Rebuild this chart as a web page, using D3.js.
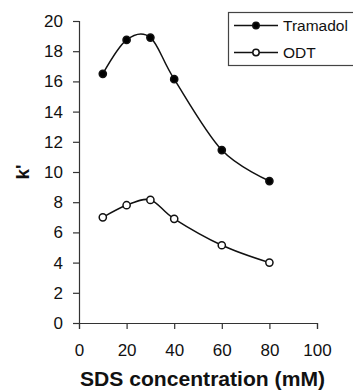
<!DOCTYPE html>
<html>
<head>
<meta charset="utf-8">
<script src="https://cdn.jsdelivr.net/npm/d3@7"></script>
<style>
    body { margin: 0; background: #fff; }
    svg { display: block; font-family: "Liberation Sans", Arial, sans-serif; }
</style>
</head>
<body>
<div id="chart"></div>
<script>
/* Chart data. */
const concentrations = [10, 20, 30, 40, 60, 80];
const tramadol = [16.5, 18.75, 18.9, 16.15, 11.45, 9.4];
const odt = [7.0, 7.8, 8.15, 6.9, 5.15, 4.0];
const xTicks = [0, 20, 40, 60, 80, 100];
const yTicks = [0, 2, 4, 6, 8, 10, 12, 14, 16, 18, 20];
const seriesNames = ['Tramadol', 'ODT'];

const width = 353;
const height = 391;
const margin = {top: 21, right: 36, bottom: 68, left: 79};

const svg = d3.select('#chart').append('svg')
    .attr('width', width)
    .attr('height', height);

const x = d3.scaleLinear().domain([0, 100]).range([margin.left, width - margin.right]);
const y = d3.scaleLinear().domain([0, 20]).range([height - margin.bottom, margin.top]);

// Draw axes.
const xAxis = svg.append('g')
    .attr('transform', 'translate(0,' + y(0) + ')')
    .call(d3.axisBottom(x).tickValues(xTicks).tickSize(6).tickPadding(15));
const yAxis = svg.append('g')
    .attr('transform', 'translate(' + x(0) + ',0)')
    .call(d3.axisLeft(y).tickValues(yTicks).tickSize(6).tickPadding(10));

for (const ax of [xAxis, yAxis]) {
    ax.select('.domain').attr('stroke', '#333').attr('stroke-width', 1.2);
    ax.selectAll('.tick line').attr('stroke', '#333').attr('stroke-width', 1.2);
    ax.selectAll('.tick text')
        .attr('fill', '#111')
        .style('font-size', '17px')
        .style('font-family', '"Liberation Sans", Arial, sans-serif');
}

// Axis titles.
svg.append('text')
    .attr('x', 80)
    .attr('y', 386)
    .attr('textLength', 245)
    .attr('lengthAdjust', 'spacingAndGlyphs')
    .style('font-size', '19.5px')
    .style('font-weight', 'bold')
    .attr('fill', '#111')
    .text('SDS concentration (mM)');

svg.append('text')
    .attr('transform', 'translate(29,' + y(10) + ') rotate(-90)')
    .attr('text-anchor', 'middle')
    .style('font-size', '19px')
    .style('font-weight', 'bold')
    .attr('fill', '#111')
    .text("k'");

// Lines and markers.
const line = d3.line()
    .x((d, i) => x(concentrations[i]))
    .y(d => y(d))
    .curve(d3.curveCardinal.tension(0));

const series = [
    {name: seriesNames[0], values: tramadol, fill: '#000'},
    {name: seriesNames[1], values: odt, fill: '#fff'}
];

for (const s of series) {
    svg.append('path')
        .datum(s.values)
        .attr('d', line)
        .attr('fill', 'none')
        .attr('stroke', '#111')
        .attr('stroke-width', 1.5);

    svg.selectAll(null)
        .data(s.values)
        .enter()
        .append('circle')
        .attr('cx', (d, i) => x(concentrations[i]))
        .attr('cy', d => y(d))
        .attr('r', 3.6)
        .attr('fill', s.fill)
        .attr('stroke', '#111')
        .attr('stroke-width', 1.5);
}

// Legend.
const legend = svg.append('g').attr('transform', 'translate(228,12)');
legend.append('rect')
    .attr('x', 0.5)
    .attr('y', 0.5)
    .attr('width', 130)
    .attr('height', 53)
    .attr('fill', '#fff')
    .attr('stroke', '#444')
    .attr('stroke-width', 1.2);

series.forEach((s, i) => {
    const ly = 13.5 + i * 27;
    legend.append('line')
        .attr('x1', 6).attr('x2', 50)
        .attr('y1', ly).attr('y2', ly)
        .attr('stroke', '#111')
        .attr('stroke-width', 1.5);
    legend.append('circle')
        .attr('cx', 28).attr('cy', ly)
        .attr('r', 3.2)
        .attr('fill', s.fill)
        .attr('stroke', '#111')
        .attr('stroke-width', 1.5);
    legend.append('text')
        .attr('x', 55)
        .attr('y', ly)
        .attr('dy', '0.35em')
        .style('font-size', '15.5px')
        .attr('fill', '#111')
        .text(s.name);
});
</script>
</body>
</html>
